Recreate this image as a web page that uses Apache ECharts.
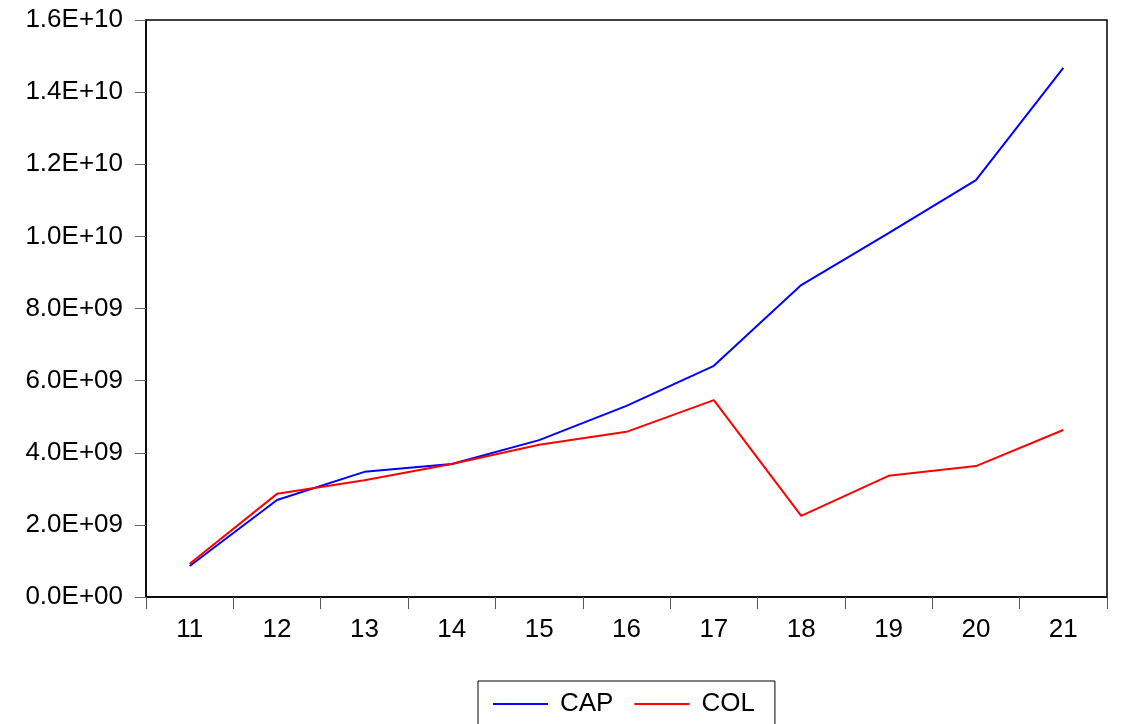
<!DOCTYPE html>
<html>
<head>
<meta charset="utf-8">
<script src="https://cdn.jsdelivr.net/npm/echarts@6/dist/echarts.min.js"></script>
<style>
html,body{margin:0;padding:0;background:#fff;}
#chart{width:1128px;height:724px;}
</style>
</head>
<body>
<div id="chart"></div>
<script>
const categories = ['11','12','13','14','15','16','17','18','19','20','21'];
const capValues = [0.86e9, 2.69e9, 3.47e9, 3.69e9, 4.35e9, 5.30e9, 6.41e9, 8.65e9, 10.09e9, 11.56e9, 14.67e9];
const colValues = [0.92e9, 2.86e9, 3.24e9, 3.69e9, 4.22e9, 4.58e9, 5.46e9, 2.25e9, 3.36e9, 3.63e9, 4.63e9];
const yTickLabels = ['0.0E+00','2.0E+09','4.0E+09','6.0E+09','8.0E+09','1.0E+10','1.2E+10','1.4E+10','1.6E+10'];

const font = '"Liberation Sans", Arial, sans-serif';
const chart = echarts.init(document.getElementById('chart'), null, {renderer: 'canvas'});
chart.setOption({
  animation: false,
  backgroundColor: '#fff',
  grid: {left: 146, right: 21, top: 20, bottom: 127, show: true, borderColor: '#000', borderWidth: 1.5, containLabel: false},
  xAxis: {
    type: 'category',
    data: categories,
    boundaryGap: true,
    axisLine: {show: true, lineStyle: {color: '#000', width: 1.5}},
    axisTick: {show: true, alignWithLabel: false, length: 12, inside: false, lineStyle: {color: '#555', width: 1}},
    axisLabel: {color: '#000', fontSize: 26, fontFamily: font, margin: 20},
    splitLine: {show: false}
  },
  yAxis: {
    type: 'value',
    min: 0, max: 1.6e10, interval: 2e9,
    axisLine: {show: true, lineStyle: {color: '#000', width: 1.5}},
    axisTick: {show: true, length: 11, lineStyle: {color: '#666', width: 1}},
    axisLabel: {color: '#000', fontSize: 26, fontFamily: font, margin: 23,
      formatter: function (v, i) { return yTickLabels[i]; }},
    splitLine: {show: false}
  },
  legend: {
    left: 478, top: 681,
    data: ['CAP', 'COL'],
    icon: 'rect',
    itemWidth: 55, itemHeight: 2, itemGap: 21,
    padding: [9, 20, 30, 15],
    borderColor: '#000', borderWidth: 1,
    textStyle: {color: '#000', fontSize: 26, fontFamily: font, padding: [0, 0, 0, 7], lineHeight: 28}
  },
  series: [
    {name: 'CAP', type: 'line', data: capValues, symbol: 'none', lineStyle: {color: '#0000ff', width: 2}, itemStyle: {color: '#0000ff'}},
    {name: 'COL', type: 'line', data: colValues, symbol: 'none', lineStyle: {color: '#ff0000', width: 2}, itemStyle: {color: '#ff0000'}}
  ]
});
</script>
</body>
</html>
